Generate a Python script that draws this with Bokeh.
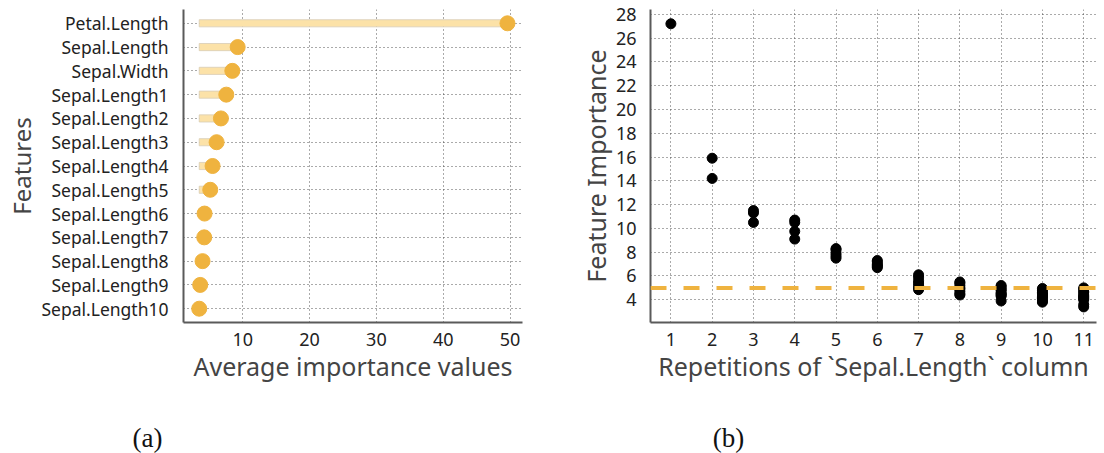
from bokeh.plotting import figure
from bokeh.layouts import column, row
from bokeh.models import FixedTicker, Span, Label, FactorRange, Range1d, ColumnDataSource
from bokeh.embed import file_html
from bokeh.resources import INLINE

# ---- data -----------------------------------------------------------------
features = [
    "Petal.Length", "Sepal.Length", "Sepal.Width",
    "Sepal.Length1", "Sepal.Length2", "Sepal.Length3", "Sepal.Length4",
    "Sepal.Length5", "Sepal.Length6", "Sepal.Length7", "Sepal.Length8",
    "Sepal.Length9", "Sepal.Length10",
]
avg_importance = [49.6, 9.25, 8.45, 7.55, 6.75, 6.1, 5.5, 5.15, 4.3, 4.25, 4.0, 3.65, 3.5]
x_ticks_a = [10, 20, 30, 40, 50]

repetitions = [1, 2, 3, 4, 5, 6, 7, 8, 9, 10, 11]
rep_importance = [
    [27.2],
    [15.9, 14.2],
    [11.5, 11.3, 10.5],
    [10.7, 10.5, 9.75, 9.1],
    [8.3, 8.2, 7.9, 7.7, 7.5],
    [7.3, 7.2, 7.0, 6.9, 6.8, 6.7],
    [6.1, 5.9, 5.6, 5.4, 5.2, 5.0, 4.85],
    [5.5, 5.4, 5.2, 5.0, 4.9, 4.7, 4.5, 4.4],
    [5.2, 5.1, 4.9, 4.8, 4.6, 4.5, 4.4, 4.3, 3.9],
    [4.95, 4.8, 4.6, 4.5, 4.4, 4.3, 4.2, 4.1, 3.9, 3.8],
    [5.0, 4.9, 4.7, 4.6, 4.4, 4.3, 4.2, 4.1, 4.0, 3.6, 3.4],
]
y_ticks_b = [4, 6, 8, 10, 12, 14, 16, 18, 20, 22, 24, 26, 28]
threshold = 5.0

captions = ["(a)", "(b)"]

# ---- styling --------------------------------------------------------------
FONT = "Noto Sans"
ORANGE = "#EFB33F"
PALE = "#FCE2A8"
GRID = "#444444"
AXIS = "#5a5a5a"


def style(p):
    p.outline_line_color = None
    p.background_fill_color = "white"
    p.border_fill_color = "white"
    for ax in (p.xaxis[0], p.yaxis[0]):
        ax.axis_line_color = AXIS
        ax.axis_line_width = 2
        ax.major_tick_line_color = None
        ax.minor_tick_line_color = None
        ax.major_label_text_font = FONT
        ax.major_label_text_font_size = "18px"
        ax.major_label_text_color = "#222222"
        ax.axis_label_text_font = FONT
        ax.axis_label_text_font_size = "25px"
        ax.axis_label_text_font_style = "normal"
        ax.axis_label_text_color = "#444444"
        ax.major_label_standoff = 8
        ax.axis_label_standoff = 0
    p.xaxis.major_label_standoff = 4
    p.xaxis.axis_label_standoff = 0
    for g in (p.xgrid[0], p.ygrid[0]):
        g.grid_line_color = GRID
        g.grid_line_dash = "1 3"
        g.grid_line_width = 1
        g.grid_line_alpha = 0.9


# ---- (a) lollipop of average importance -----------------------------------
src_a = ColumnDataSource(dict(
    feature=features,
    value=avg_importance,
    base=[min(avg_importance)] * len(avg_importance),
))

pa = figure(
    width=545, height=395,
    y_range=FactorRange(factors=features[::-1], range_padding=0.16 / 13),
    x_range=Range1d(1.15, 51.85),
    min_border_left=183, min_border_right=23,
    min_border_top=9, min_border_bottom=73,
    output_backend="svg", toolbar_location=None,
)
pa.hbar(y="feature", left="base", right="value", height=0.3, source=src_a,
        fill_color=PALE, line_color="#D8CDB6", line_width=0.8)
pa.scatter(x="value", y="feature", source=src_a, size=15,
           fill_color=ORANGE, line_color=ORANGE)
style(pa)
pa.xaxis.ticker = FixedTicker(ticks=x_ticks_a)
pa.xaxis.axis_label = "Average importance values"
pa.yaxis.axis_label = "Features"
pa.yaxis.major_label_standoff = 9
pa.yaxis.axis_label_text_font_size = "24px"
pa.yaxis.major_label_text_font_size = "17.5px"

# ---- (b) importance vs repetitions ----------------------------------------
xs, ys = [], []
for r, vals in zip(repetitions, rep_importance):
    for v in vals:
        xs.append(r)
        ys.append(v)

pb = figure(
    width=559, height=395,
    x_range=Range1d(0.506, 11.31), y_range=Range1d(2.09, 28.4),
    min_border_left=105, min_border_right=8,
    min_border_top=9, min_border_bottom=73,
    output_backend="svg", toolbar_location=None,
)
pb.add_layout(Span(location=threshold, dimension="width", line_color=ORANGE,
                   line_width=4, line_dash="16 17"))
pb.scatter(x=xs, y=ys, size=10, fill_color="black", line_color="black")
style(pb)
pb.xaxis.ticker = FixedTicker(ticks=repetitions)
pb.yaxis.ticker = FixedTicker(ticks=y_ticks_b)
pb.xaxis.axis_label = "Repetitions of `Sepal.Length` column"
pb.yaxis.axis_label = "Feature Importance"

# ---- sub-figure captions --------------------------------------------------
pc = figure(
    width=1104, height=58,
    x_range=Range1d(0, 1104), y_range=Range1d(0, 58),
    min_border=0, output_backend="svg", toolbar_location=None,
)
pc.axis.visible = False
pc.grid.visible = False
pc.outline_line_color = None
for cap, cx in zip(captions, [147, 728]):
    pc.add_layout(Label(x=cx, y=16, text=cap, text_align="center",
                        text_baseline="middle", text_font="Liberation Serif",
                        text_font_size="27px", text_color="#111111"))

layout = column(row(pa, pb), pc)

with open("out.html", "w") as f:
    f.write(file_html(layout, INLINE))
